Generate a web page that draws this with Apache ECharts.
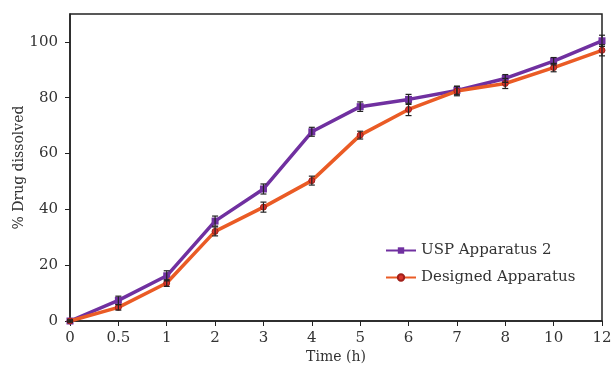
<!DOCTYPE html>
<html>
<head>
<meta charset="utf-8">
<script src="https://cdn.jsdelivr.net/npm/echarts@6/dist/echarts.min.js"></script>
<style>
html, body { margin: 0; padding: 0; background: #fff; }
#chart { width: 612px; height: 368px; }
</style>
</head>
<body>
<div id="chart"></div>
<script>
var times = ['0', '0.5', '1', '2', '3', '4', '5', '6', '7', '8', '10', '12'];
var uspValues = [0, 7.4, 16.2, 35.8, 47.3, 67.8, 76.8, 79.4, 82.6, 86.9, 93.1, 100.4];
var uspErrors = [0.4, 1.5, 1.8, 1.8, 1.8, 1.6, 1.7, 1.8, 1.5, 1.4, 1.3, 2.0];
var designedValues = [0, 4.9, 13.6, 32.1, 40.8, 50.3, 66.6, 75.8, 82.4, 85.1, 90.8, 97.0];
var designedErrors = [0.3, 1.0, 1.2, 1.6, 1.8, 1.6, 1.4, 2.2, 1.7, 1.8, 1.5, 2.0];

function errorSeries(values, errors) {
    var data = [];
    for (var i = 0; i < values.length; i++) {
        data.push([i, values[i] - errors[i], values[i] + errors[i]]);
    }
    return {
        type: 'custom',
        data: data,
        z: 5,
        silent: true,
        renderItem: function (params, api) {
            var lo = api.coord([api.value(0), api.value(1)]);
            var hi = api.coord([api.value(0), api.value(2)]);
            var w = 3;
            var st = { stroke: '#222', lineWidth: 1.2 };
            return {
                type: 'group',
                children: [
                    { type: 'line', shape: { x1: lo[0], y1: lo[1], x2: hi[0], y2: hi[1] }, style: st },
                    { type: 'line', shape: { x1: lo[0] - w, y1: lo[1], x2: lo[0] + w, y2: lo[1] }, style: st },
                    { type: 'line', shape: { x1: hi[0] - w, y1: hi[1], x2: hi[0] + w, y2: hi[1] }, style: st }
                ]
            };
        }
    };
}

var font = 'DejaVu Serif';
var chart = echarts.init(document.getElementById('chart'));
var option = {
    backgroundColor: '#fff',
    animation: false,
    textStyle: { fontFamily: font },
    grid: {
        left: 70, right: 10, top: 14, bottom: 47,
        outerBoundsMode: 'none',
        show: true, borderColor: '#222', borderWidth: 1.5
    },
    legend: {
        orient: 'vertical',
        left: 380,
        top: 238,
        itemWidth: 30,
        itemHeight: 8,
        itemGap: 12,
        textStyle: { fontFamily: font, fontSize: 15, color: '#333' },
        data: ['USP Apparatus 2', 'Designed Apparatus']
    },
    xAxis: {
        type: 'category',
        data: times,
        boundaryGap: false,
        name: 'Time (h)',
        nameLocation: 'middle',
        nameGap: 29,
        nameMoveOverlap: false,
        nameTextStyle: { fontFamily: font, fontSize: 14, color: '#333' },
        axisLine: { lineStyle: { color: '#222', width: 1.5 } },
        axisTick: { show: true, length: 5, alignWithLabel: true, lineStyle: { color: '#222' } },
        axisLabel: { fontFamily: font, fontSize: 15, color: '#333', margin: 10 },
        splitLine: { show: false }
    },
    yAxis: {
        type: 'value',
        min: 0,
        max: 110,
        interval: 20,
        name: '% Drug dissolved',
        nameLocation: 'middle',
        nameGap: 44,
        nameMoveOverlap: false,
        nameTextStyle: { fontFamily: font, fontSize: 14, color: '#333' },
        axisLine: { show: true, lineStyle: { color: '#222', width: 1.5 } },
        axisTick: { show: true, length: 5, lineStyle: { color: '#222' } },
        axisLabel: { fontFamily: font, fontSize: 15, color: '#333', margin: 12, showMaxLabel: false },
        splitLine: { show: false }
    },
    series: [
        {
            name: 'USP Apparatus 2',
            type: 'line',
            data: uspValues,
            symbol: 'rect',
            symbolSize: 7,
            z: 3,
            lineStyle: { color: '#7030A0', width: 3.5 },
            itemStyle: { color: '#7030A0' }
        },
        {
            name: 'Designed Apparatus',
            type: 'line',
            data: designedValues,
            symbol: 'circle',
            symbolSize: 6,
            z: 4,
            lineStyle: { color: '#EA5B25', width: 3.5 },
            itemStyle: { color: '#D9342B', borderColor: '#A0201A', borderWidth: 1 }
        },
        errorSeries(uspValues, uspErrors),
        errorSeries(designedValues, designedErrors)
    ]
};
chart.setOption(option);
</script>
</body>
</html>
